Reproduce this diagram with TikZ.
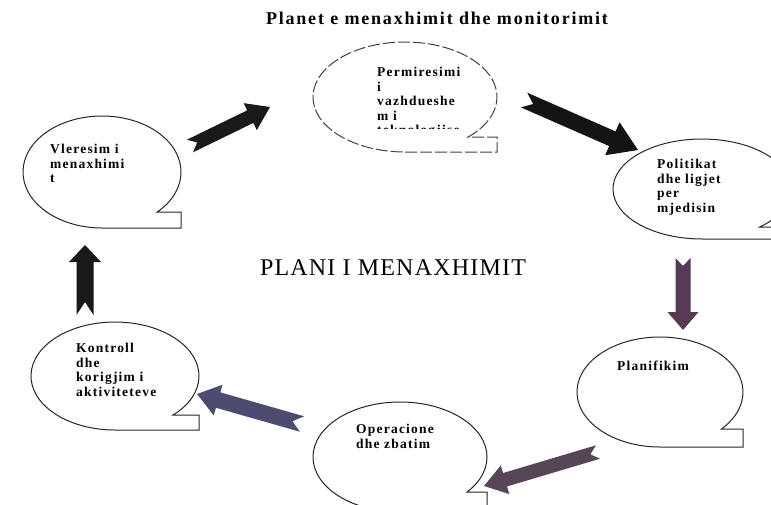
\documentclass[tikz,border=0pt]{standalone}
\usepackage{fontspec}
\setmainfont{Liberation Serif}[LetterSpace=9]
\usetikzlibrary{calc}

% oval callout: name, centre, half width, half height, tail height
\newcommand{\callout}[6][]{%
  \coordinate (#2) at (#3);
  \draw[bubble,#1] ($(#2)+(0,#5)$) -- ($(#2)+(#4,#5)$) -- ($(#2)+(#4,#5-#6)$)
    -- ($(#2)+({#4*cos(asin(1-#6/#5))},#5-#6)$)
    arc[start angle={asin(1-#6/#5)}, end angle=-270, x radius=#4, y radius=#5] -- cycle;
}
% notched block arrow: tail, tip, colour, shaft, head, head length, notch
\newcommand{\blockarrow}[7]{%
  \fill[#3] ($(#1)!#4pt!90:(#2)$) -- ($(#2)!#6pt!(#1)!#4pt!-90:(#1)$) -- ($(#2)!#6pt!(#1)!#5pt!-90:(#1)$) -- (#2)
    -- ($(#2)!#6pt!(#1)!#5pt!90:(#1)$) -- ($(#2)!#6pt!(#1)!#4pt!90:(#1)$) -- ($(#1)!#4pt!-90:(#2)$) -- ($(#1)!#7pt!(#2)$) -- cycle;
}

\begin{document}
\begin{tikzpicture}[x=1pt,y=-1pt,
    bubble/.style={line width=1pt, black!85},
    txt/.style={anchor=north west, inner sep=0pt, align=left, font=\bfseries\fontsize{13.5}{14.5}\selectfont},
    heading/.style={font=\bfseries\fontsize{18}{20}\selectfont\addfontfeatures{LetterSpace=10}},
    plani/.style={font=\fontsize{24}{26}\selectfont\addfontfeatures{LetterSpace=5}}]
    \useasboundingbox (0,0) rectangle (771,504);
    \clip (0,0) rectangle (771,504);

    \node[heading] (title) at (437,18) {Planet e menaxhimit dhe monitorimit};
    \node[plani] (plani) at (393,268) {PLANI I MENAXHIMIT};

    \callout{vler}{102,172}{79}{56}{16}
    \callout[dash pattern=on 12pt off 3pt, black!75]{perm}{405,97}{92}{55}{15}
    \callout{poli}{702,189}{89}{50}{12}
    \callout{plan}{660,392}{83}{55}{18}
    \callout{oper}{400,457}{87}{55}{20}
    \callout{kont}{115,376}{84}{54}{15}

    \node[txt] (vlertxt) at (50,144) {Vleresim i\\menaxhimi\\t};
    \begin{scope}
      \clip (360,50) rectangle (490,128);
      \node[txt] (permtxt) at (377,67) {Permiresimi\\i\\vazhdueshe\\m i\\teknologjise};
    \end{scope}
    \node[txt] (politxt) at (657,159) {Politikat\\dhe ligjet\\per\\mjedisin};
    \node[txt] (plantxt) at (617,361) {Planifikim};
    \node[txt] (opertxt) at (356,424) {Operacione\\dhe zbatim};
    \node[txt] (konttxt) at (76,343) {Kontroll\\dhe\\korigjim i\\aktiviteteve};

    % arrows between the callouts
    \coordinate (a1t) at (190,146);
    \coordinate (a1h) at (270,107);
    \coordinate (a2t) at (524,100);
    \coordinate (a2h) at (638,150);
    \coordinate (a3t) at (683,258);
    \coordinate (a3h) at (683,330);
    \coordinate (a4t) at (598,452);
    \coordinate (a4h) at (484,486);
    \coordinate (a5t) at (302,424);
    \coordinate (a5h) at (197,394);
    \coordinate (a6t) at (85,315);
    \coordinate (a6h) at (85,245);

    \blockarrow{a1t}{a1h}{black!90}{7}{15}{22}{8}
    \blockarrow{a2t}{a2h}{black!92}{8}{18}{28}{10}
    \blockarrow{a3t}{a3h}{black!60!violet!55!gray}{7.5}{15.5}{18}{8}
    \blockarrow{a4t}{a4h}{black!70!violet!45!gray}{7}{15}{22}{8}
    \blockarrow{a5t}{a5h}{black!65!blue!40!gray}{8}{16}{22}{10}
    \blockarrow{a6t}{a6h}{black!90}{8.5}{16}{17}{13}
\end{tikzpicture}
\end{document}
